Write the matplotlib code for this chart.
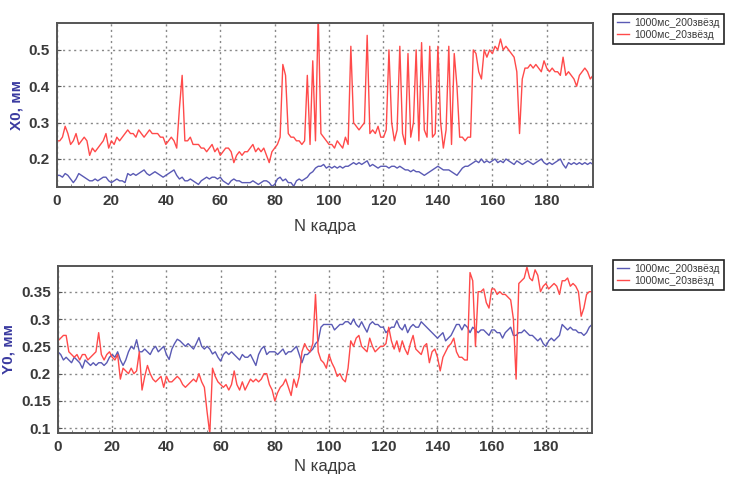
import numpy as np
import matplotlib
matplotlib.use("Agg")
import matplotlib.pyplot as plt
from matplotlib.ticker import MultipleLocator, FuncFormatter

frames = list(range(198))

x0_200 = [
    0.155, 0.155, 0.15, 0.16, 0.155, 0.145, 0.135, 0.145, 0.16, 0.155,
    0.15, 0.145, 0.14, 0.14, 0.145, 0.14, 0.145, 0.15, 0.15, 0.14,
    0.135, 0.14, 0.145, 0.14, 0.14, 0.135, 0.16, 0.155, 0.16, 0.155,
    0.16, 0.165, 0.17, 0.16, 0.155, 0.16, 0.165, 0.16, 0.155, 0.15,
    0.155, 0.16, 0.165, 0.17, 0.155, 0.145, 0.15, 0.14, 0.14, 0.145,
    0.14, 0.135, 0.13, 0.14, 0.145, 0.15, 0.145, 0.15, 0.15, 0.145,
    0.15, 0.14, 0.135, 0.13, 0.14, 0.145, 0.14, 0.14, 0.135, 0.135,
    0.135, 0.135, 0.14, 0.135, 0.13, 0.135, 0.14, 0.14, 0.135, 0.125,
    0.13, 0.145, 0.15, 0.14, 0.145, 0.135, 0.135, 0.125, 0.14, 0.145,
    0.14, 0.145, 0.15, 0.16, 0.165, 0.175, 0.18, 0.18, 0.185, 0.175,
    0.18, 0.175, 0.18, 0.175, 0.18, 0.175, 0.18, 0.18, 0.185, 0.19,
    0.185, 0.19, 0.185, 0.19, 0.195, 0.18, 0.185, 0.18, 0.175, 0.18,
    0.18, 0.18, 0.175, 0.18, 0.18, 0.175, 0.18, 0.175, 0.17, 0.17,
    0.165, 0.17, 0.165, 0.165, 0.16, 0.155, 0.16, 0.165, 0.17, 0.175,
    0.18, 0.175, 0.17, 0.17, 0.17, 0.165, 0.16, 0.155, 0.165, 0.175,
    0.18, 0.18, 0.185, 0.19, 0.195, 0.19, 0.2, 0.19, 0.195, 0.19,
    0.195, 0.2, 0.19, 0.195, 0.19, 0.2, 0.195, 0.19, 0.185, 0.195,
    0.19, 0.185, 0.19, 0.195, 0.19, 0.185, 0.19, 0.195, 0.2, 0.19,
    0.185, 0.19, 0.185, 0.19, 0.195, 0.2, 0.185, 0.175, 0.19, 0.185,
    0.19, 0.185, 0.19, 0.185, 0.19, 0.185, 0.19, 0.185,
]

x0_20 = [
    0.25, 0.25, 0.26, 0.29, 0.27, 0.24, 0.25, 0.27, 0.24, 0.25,
    0.26, 0.25, 0.21, 0.23, 0.22, 0.23, 0.24, 0.25, 0.27, 0.23,
    0.25, 0.24, 0.26, 0.25, 0.26, 0.27, 0.28, 0.27, 0.27, 0.26,
    0.28, 0.27, 0.26, 0.27, 0.28, 0.27, 0.27, 0.27, 0.26, 0.26,
    0.24, 0.25, 0.26, 0.25, 0.23, 0.34, 0.43, 0.25, 0.25, 0.26,
    0.24, 0.24, 0.24, 0.23, 0.23, 0.22, 0.23, 0.24, 0.22, 0.23,
    0.21, 0.22, 0.23, 0.23, 0.22, 0.19, 0.21, 0.22, 0.21, 0.22,
    0.22, 0.23, 0.24, 0.22, 0.23, 0.22, 0.23, 0.21, 0.19, 0.22,
    0.23, 0.24, 0.26, 0.46, 0.43, 0.27, 0.26, 0.26, 0.25, 0.25,
    0.24, 0.25, 0.43, 0.24, 0.47, 0.25, 0.60, 0.27, 0.26, 0.25,
    0.24, 0.24, 0.23, 0.25, 0.24, 0.23, 0.26, 0.24, 0.51, 0.30,
    0.29, 0.28, 0.29, 0.30, 0.54, 0.27, 0.28, 0.27, 0.29, 0.26,
    0.26, 0.28, 0.50, 0.30, 0.25, 0.28, 0.51, 0.27, 0.24, 0.49,
    0.26, 0.30, 0.50, 0.25, 0.52, 0.28, 0.26, 0.51, 0.26, 0.27,
    0.51, 0.30, 0.23, 0.28, 0.51, 0.24, 0.49, 0.40, 0.26, 0.26,
    0.25, 0.26, 0.26, 0.50, 0.49, 0.44, 0.42, 0.50, 0.48, 0.50,
    0.49, 0.51, 0.50, 0.53, 0.50, 0.51, 0.50, 0.49, 0.48, 0.44,
    0.27, 0.42, 0.45, 0.45, 0.46, 0.45, 0.46, 0.45, 0.44, 0.47,
    0.45, 0.44, 0.45, 0.44, 0.44, 0.43, 0.48, 0.43, 0.44, 0.43,
    0.42, 0.40, 0.43, 0.44, 0.45, 0.44, 0.42, 0.43,
]

y0_200 = [
    0.24, 0.235, 0.225, 0.23, 0.225, 0.22, 0.23, 0.225, 0.22, 0.21,
    0.225, 0.22, 0.215, 0.22, 0.215, 0.22, 0.22, 0.215, 0.22, 0.23,
    0.235, 0.23, 0.24, 0.225, 0.215, 0.225, 0.24, 0.25, 0.245, 0.262,
    0.24, 0.24, 0.245, 0.24, 0.235, 0.245, 0.25, 0.24, 0.245, 0.25,
    0.235, 0.226, 0.245, 0.255, 0.263, 0.26, 0.255, 0.25, 0.255, 0.25,
    0.245, 0.255, 0.266, 0.25, 0.245, 0.25, 0.245, 0.236, 0.24, 0.23,
    0.223, 0.235, 0.24, 0.235, 0.24, 0.235, 0.23, 0.225, 0.235, 0.23,
    0.23, 0.235, 0.225, 0.215, 0.235, 0.245, 0.25, 0.235, 0.24, 0.24,
    0.24, 0.235, 0.24, 0.245, 0.235, 0.24, 0.24, 0.245, 0.25, 0.235,
    0.22, 0.235, 0.235, 0.24, 0.245, 0.255, 0.26, 0.285, 0.29, 0.29,
    0.29, 0.29, 0.28, 0.285, 0.29, 0.29, 0.295, 0.295, 0.29, 0.30,
    0.29, 0.285, 0.295, 0.285, 0.276, 0.29, 0.295, 0.29, 0.29, 0.285,
    0.285, 0.275, 0.28, 0.285, 0.285, 0.297, 0.285, 0.28, 0.29, 0.275,
    0.285, 0.29, 0.285, 0.285, 0.295, 0.29, 0.285, 0.28, 0.275, 0.27,
    0.265, 0.27, 0.275, 0.26, 0.265, 0.27, 0.28, 0.29, 0.29, 0.28,
    0.29, 0.285, 0.275, 0.285, 0.28, 0.275, 0.28, 0.28, 0.275, 0.27,
    0.28, 0.28, 0.275, 0.275, 0.265, 0.275, 0.28, 0.285, 0.27, 0.27,
    0.275, 0.275, 0.28, 0.275, 0.27, 0.27, 0.265, 0.26, 0.265, 0.255,
    0.25, 0.26, 0.265, 0.26, 0.265, 0.27, 0.29, 0.285, 0.28, 0.285,
    0.28, 0.28, 0.275, 0.275, 0.27, 0.275, 0.285, 0.29,
]

y0_20 = [
    0.26, 0.265, 0.27, 0.27, 0.24, 0.235, 0.23, 0.235, 0.225, 0.235,
    0.235, 0.225, 0.23, 0.235, 0.24, 0.275, 0.235, 0.225, 0.235, 0.24,
    0.23, 0.225, 0.235, 0.19, 0.21, 0.205, 0.20, 0.21, 0.20, 0.205,
    0.24, 0.17, 0.195, 0.215, 0.20, 0.19, 0.185, 0.19, 0.195, 0.175,
    0.195, 0.185, 0.185, 0.19, 0.195, 0.19, 0.18, 0.175, 0.18, 0.185,
    0.19, 0.185, 0.20, 0.185, 0.175, 0.13, 0.09, 0.21, 0.195, 0.185,
    0.18, 0.175, 0.18, 0.17, 0.18, 0.205, 0.18, 0.17, 0.185, 0.17,
    0.18, 0.19, 0.185, 0.19, 0.185, 0.19, 0.20, 0.20, 0.18, 0.17,
    0.15, 0.165, 0.175, 0.18, 0.19, 0.175, 0.16, 0.19, 0.175, 0.195,
    0.24, 0.255, 0.245, 0.24, 0.255, 0.345, 0.24, 0.225, 0.22, 0.21,
    0.235, 0.22, 0.21, 0.195, 0.20, 0.19, 0.185, 0.21, 0.26, 0.25,
    0.265, 0.27, 0.25, 0.245, 0.24, 0.265, 0.25, 0.24, 0.245, 0.25,
    0.25, 0.255, 0.285, 0.26, 0.245, 0.26, 0.24, 0.26, 0.245, 0.235,
    0.255, 0.27, 0.245, 0.24, 0.235, 0.25, 0.255, 0.22, 0.24, 0.245,
    0.23, 0.205, 0.23, 0.24, 0.25, 0.255, 0.265, 0.24, 0.23, 0.23,
    0.225, 0.225, 0.385, 0.37, 0.25, 0.35, 0.35, 0.355, 0.33, 0.32,
    0.355, 0.355, 0.345, 0.35, 0.345, 0.345, 0.34, 0.335, 0.30, 0.19,
    0.365, 0.37, 0.375, 0.395, 0.375, 0.37, 0.39, 0.38, 0.35, 0.36,
    0.365, 0.355, 0.36, 0.365, 0.36, 0.345, 0.37, 0.37, 0.375, 0.36,
    0.365, 0.36, 0.35, 0.305, 0.32, 0.345, 0.35, 0.35,
]

labels = ["1000мс_200звёзд", "1000мс_20звёзд"]
xticks = [0, 20, 40, 60, 80, 100, 120, 140, 160, 180]

BLUE = "#5a5ab4"
RED = "#ff4a4a"
TXT = "#3a3a3a"

plt.rcParams['font.family'] = ['Liberation Sans', 'DejaVu Sans']

fig = plt.figure(figsize=(7.29, 4.78), dpi=100)
W, H = 729, 478

def make_ax(left, top, right, bottom):
    return fig.add_axes([left / W, 1 - bottom / H, (right - left) / W, (bottom - top) / H])

ax1 = make_ax(57, 23, 593, 187)
ax2 = make_ax(58, 266, 592, 433)

panels = [
    (ax1, x0_200, x0_20, (0.123, 0.574), 0.1, "X0, мм", 9, 8),
    (ax2, y0_200, y0_20, (0.0914, 0.397), 0.05, "Y0, мм", 255, 4),
]

fmt = FuncFormatter(lambda v, p: "{:g}".format(round(v, 3)))

for ax, s200, s20, ylim, ystep, ylab, legtop, xpad in panels:
    l1, = ax.plot(frames, s200, color=BLUE, lw=1.0, label=labels[0])
    l2, = ax.plot(frames, s20, color=RED, lw=1.0, label=labels[1])
    ax.set_xlim(0, 197)
    ax.set_ylim(*ylim)
    ax.set_xticks(xticks)
    ax.yaxis.set_major_locator(MultipleLocator(ystep))
    ax.yaxis.set_major_formatter(fmt)
    ax.xaxis.set_minor_locator(MultipleLocator(5))
    ax.grid(True, which='major', linestyle=(0, (1.5, 2.5)), color='#888888', lw=1.0)
    ax.tick_params(axis='both', which='major', direction='in', length=3,
                   labelsize=11, labelcolor=TXT, color='#555555', pad=5)
    ax.tick_params(axis='x', which='minor', direction='in', length=2, color='#777777')
    for lab in ax.get_xticklabels() + ax.get_yticklabels():
        lab.set_fontweight('bold')
    for sp in ax.spines.values():
        sp.set_color('#555555')
        sp.set_linewidth(1.4)
    ax.set_xlabel("N кадра", fontsize=12, color=TXT, labelpad=xpad)
    ax.set_ylabel(ylab, fontsize=11, color='#3a3aa0', fontweight='bold', labelpad=4)
    leg = fig.legend(handles=[l1, l2], labels=labels, loc='upper left',
                     bbox_to_anchor=(608 / W, 1 - legtop / H), fontsize=7.5,
                     handlelength=1.2, handletextpad=0.5, borderpad=0.35,
                     labelspacing=0.2, fancybox=False, framealpha=1)
    leg.get_frame().set_edgecolor('#222222')
    leg.get_frame().set_linewidth(1.2)
    for t in leg.get_texts():
        t.set_color(TXT)

fig.savefig("out.png", dpi=100)
